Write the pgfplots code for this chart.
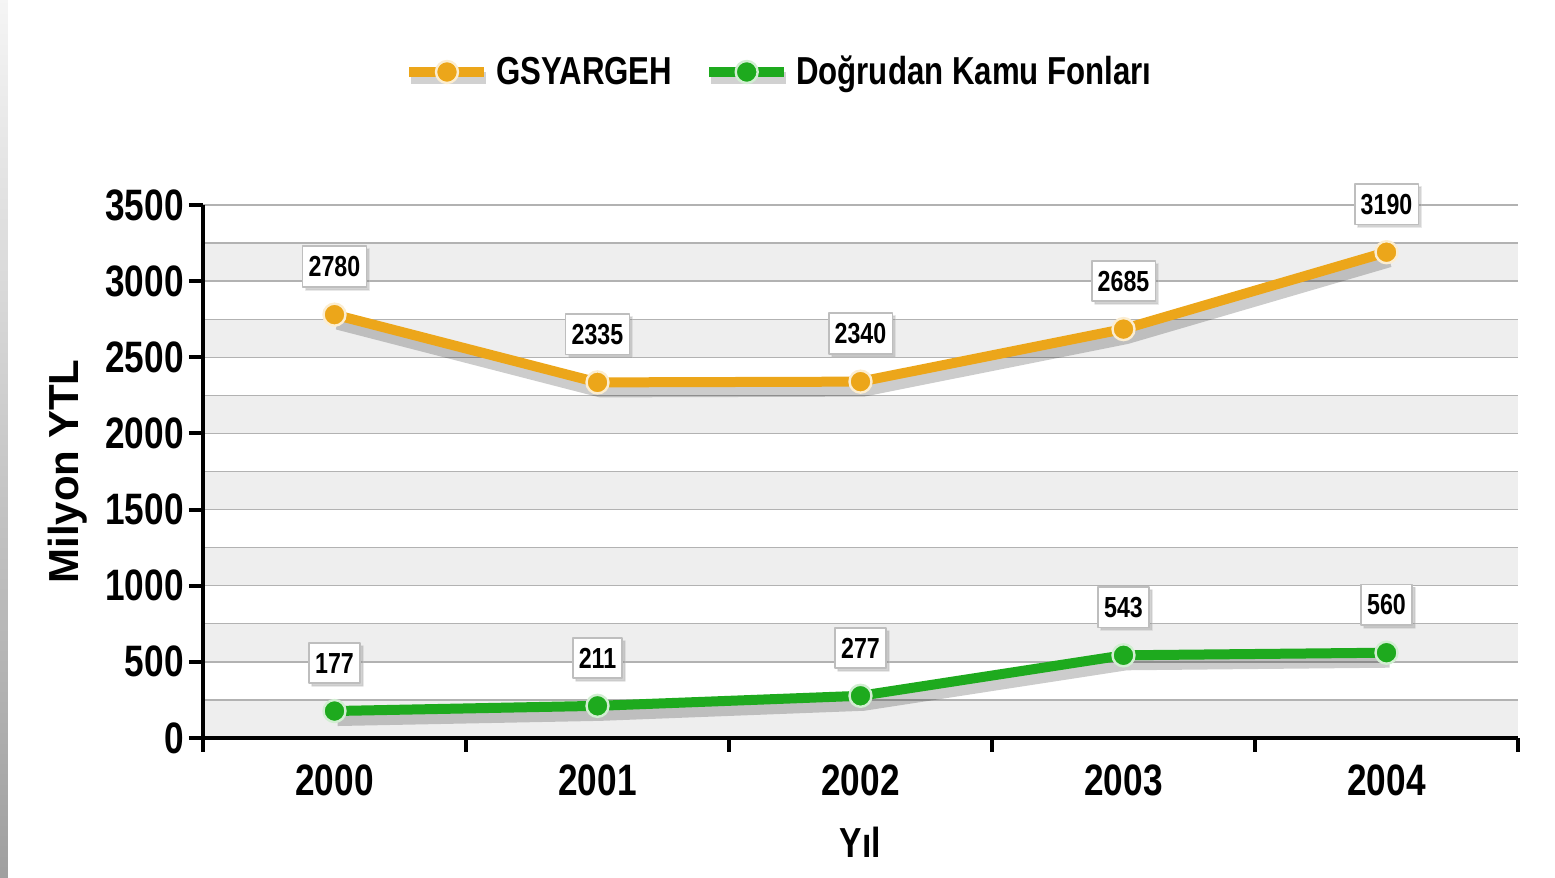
\documentclass[border=0pt]{standalone}
\usepackage{fontspec}
\setmainfont{Liberation Sans}[FakeStretch=0.8]
\newfontfamily\widefont{Liberation Sans}
\usepackage{pgfplots}
\pgfplotsset{compat=1.18}
\usetikzlibrary{shadows}
\definecolor{cOr}{RGB}{236,166,26}
\definecolor{cGr}{RGB}{30,170,30}
\definecolor{band}{RGB}{238,238,238}
\definecolor{gridc}{RGB}{178,178,178}
\definecolor{boxc}{RGB}{190,190,190}
\begin{document}
\begin{tikzpicture}
\begin{axis}[
  scale only axis, width=657.5pt, height=266.5pt,
  xmin=-0.5, xmax=4.5, ymin=0, ymax=3500,
  clip=false, axis on top,
  axis x line*=bottom, axis y line*=left,
  axis line style={-, line width=2pt, black},
  xtick={-0.5,0.5,1.5,2.5,3.5,4.5},
  x tick label as interval,
  xticklabels={2000,2001,2002,2003,2004},
  ytick={0,500,...,3500},
  tick style={line width=2pt, black},
  major tick length=7pt,
  tick align=outside,
  /pgf/number format/assume math mode=true,
  /pgf/number format/1000 sep={},
  yticklabel style={font=\bfseries\fontsize{22}{24}\selectfont, inner xsep=2.5pt},
  xticklabel style={font=\bfseries\fontsize{22}{24}\selectfont, yshift=-3pt},
  ylabel={\widefont\bfseries\fontsize{21}{24}\selectfont Milyon YTL},
  ylabel style={at={(axis description cs:-0.1027,0.5)}, anchor=center},
  xlabel={\bfseries\fontsize{21}{24}\selectfont Yıl},
  xlabel style={at={(axis description cs:0.5,0)}, anchor=center, yshift=-52pt},
  every node near coord/.append style={font=\bfseries\fontsize{14.5}{16}\selectfont, text=black,
     anchor=south, yshift=13.5pt, fill=white, draw=boxc, line width=0.8pt,
     inner xsep=3pt, inner ysep=5pt,
     drop shadow={shadow xshift=1.5pt, shadow yshift=-1.5pt, opacity=0.35}},
  legend style={at={(0.4388,1.2495)}, anchor=center, draw=none, fill=none,
     font=\bfseries\fontsize{19.5}{22}\selectfont,
     /tikz/every even column/.append style={column sep=14pt}},
  legend columns=2,
  legend image code/.code={
    \draw[black, opacity=0.18, line width=6pt] (1pt,-3pt) -- (38.5pt,-3pt);
    \draw[mark repeat=2, mark phase=2, #1] plot coordinates {(0pt,0pt) (18.75pt,0pt) (37.5pt,0pt)};
  },
]
\pgfplotsinvokeforeach{0,500,1000,1500,2000,2500,3000}{
  \fill[band] (axis cs:-0.5,#1) rectangle (axis cs:4.5,{#1+250});
}
\pgfplotsinvokeforeach{250,500,750,1000,1250,1500,1750,2000,2250,2500,2750,3000,3250,3500}{
  \draw[gridc, line width=0.7pt] (axis cs:-0.5,#1) -- (axis cs:4.5,#1);
}
\addplot[forget plot, black, opacity=0.2, line width=7pt, line join=round, yshift=-4pt, xshift=1.5pt]
  coordinates {(0,2780) (1,2335) (2,2340) (3,2685) (4,3190)};
\addplot[forget plot, black, opacity=0.2, line width=7pt, line join=round, yshift=-4pt, xshift=1.5pt]
  coordinates {(0,177) (1,211) (2,277) (3,543) (4,560)};
\addplot[cOr, line width=5pt, line join=round, mark=*, mark size=5.5pt,
  mark options={fill=cOr, draw=white!80!cOr, line width=1.2pt}, nodes near coords]
  coordinates {(0,2780) (1,2335) (2,2340) (3,2685) (4,3190)};
\addplot[cGr, line width=5pt, line join=round, mark=*, mark size=5.5pt,
  mark options={fill=cGr, draw=white!80!cGr, line width=1.2pt}, nodes near coords]
  coordinates {(0,177) (1,211) (2,277) (3,543) (4,560)};
\legend{GSYARGEH, Doğrudan Kamu Fonları}
\end{axis}
\shade[top color=gray!8, bottom color=gray!75]
  ([xshift=-101.5pt,yshift=-70pt]current axis.south west) rectangle ([xshift=-97.5pt,yshift=102.5pt]current axis.north west);
\pgfresetboundingbox
\path[use as bounding box] ([xshift=-101.5pt,yshift=-70pt]current axis.south west) rectangle ([xshift=18.5pt,yshift=102.5pt]current axis.north east);
\end{tikzpicture}
\end{document}
